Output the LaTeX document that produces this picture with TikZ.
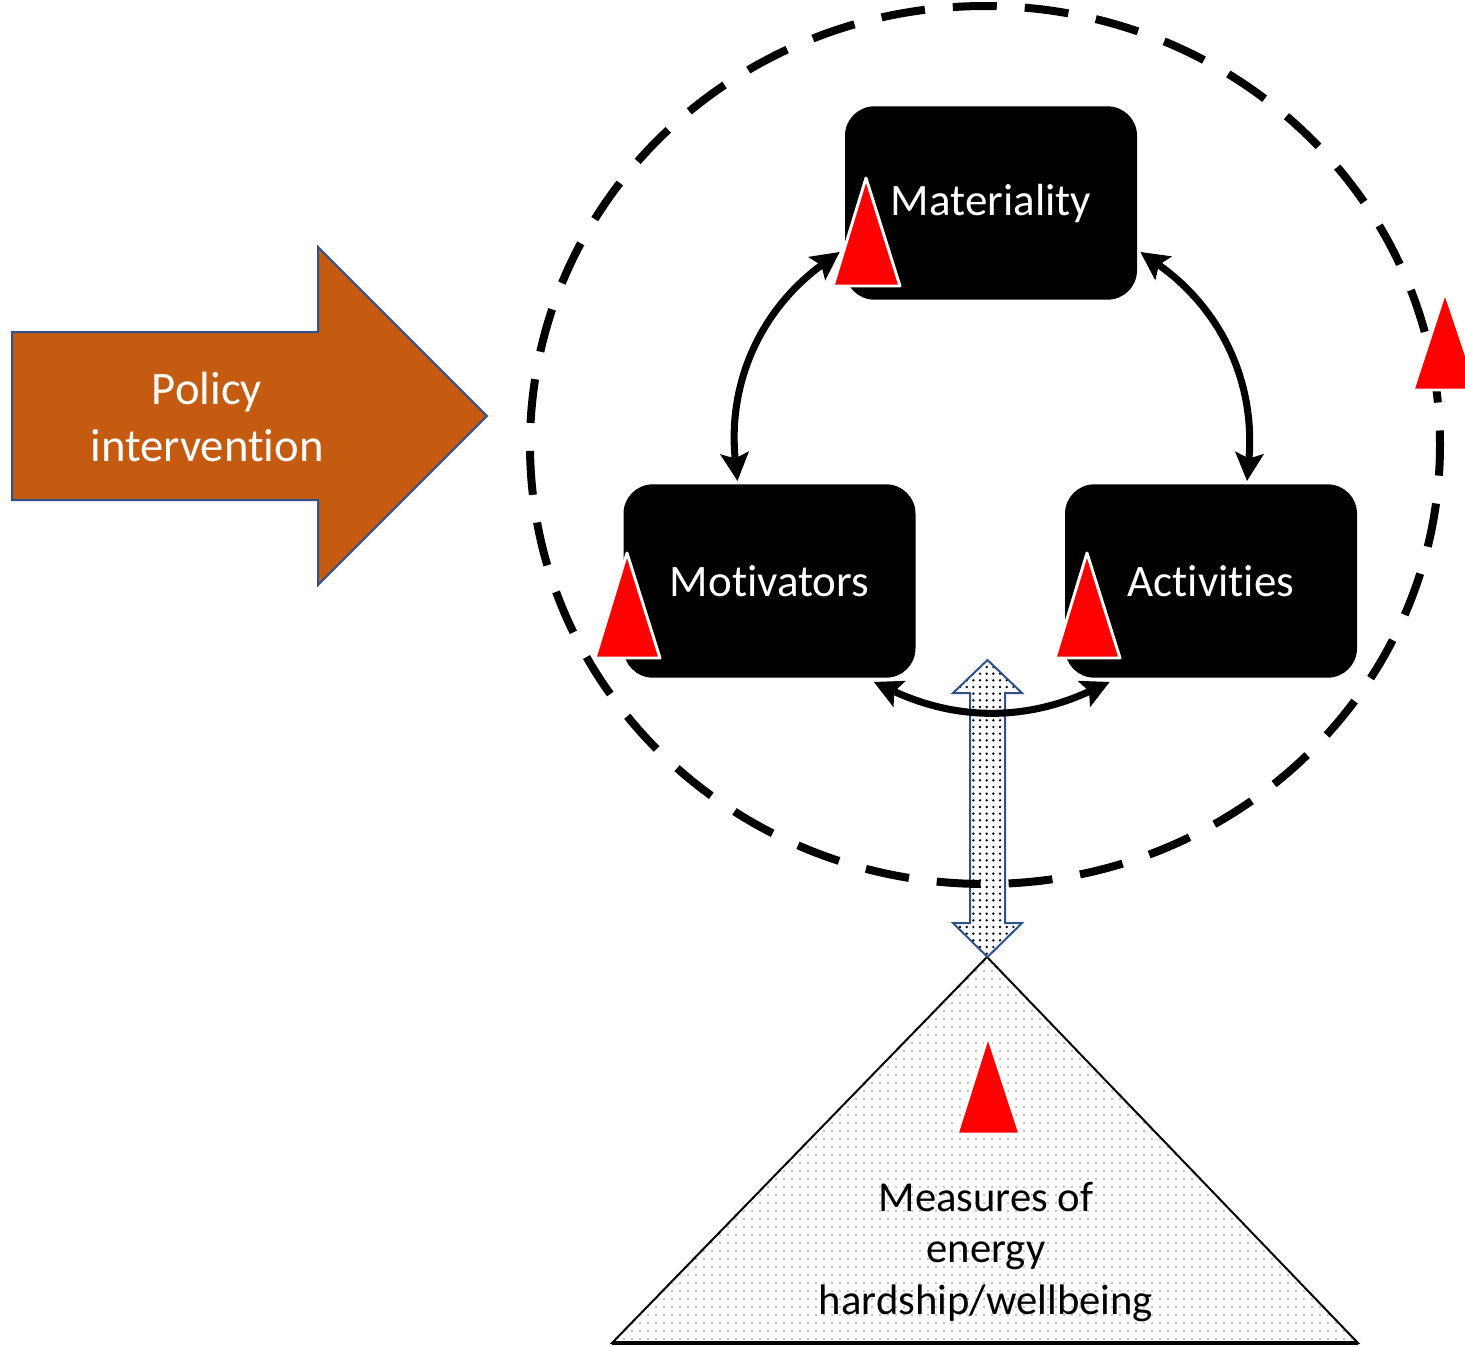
\documentclass[tikz,border=0pt]{standalone}
\usepackage{fontspec}
\setmainfont{Carlito}[RawFeature={-liga,-dlig}]
\usetikzlibrary{arrows.meta,patterns.meta}
\definecolor{orng}{HTML}{C55A11}
\definecolor{bord}{HTML}{2F528F}
\begin{document}
\begin{tikzpicture}[x=0.75pt,y=-0.75pt,
  box/.style={fill=black, rounded corners=22pt, minimum width=219pt, minimum height=145pt, text=white, font=\fontsize{33.75}{40}\selectfont, inner sep=0pt},
  link/.style={line width=5.3pt, {Stealth[length=21pt,width=21pt,inset=4pt]}-{Stealth[length=21pt,width=21pt,inset=4pt]}},
  redtri/.style={fill=red, draw=white, line width=2.2pt, line join=round},
  blockarrow/.style={draw=bord, line width=1.5pt},
  ]
\clip (0,0) rectangle (1465,1347);
\fill[white] (0,0) rectangle (1465,1347);

% policy arrow
\draw[blockarrow, fill=orng] (12,332) -- (318,332) -- (318,247) -- (487,416) -- (318,585) -- (318,500) -- (12,500) -- cycle;
\node[text=white, align=center, font=\fontsize{35}{43}\selectfont] (pol) at (207,417) {Policy\\intervention};

% pyramid
\draw[line width=1.5pt, pattern={Dots[distance=6pt,radius=0.55pt]}] (987,957) -- (1358,1343) -- (612,1343) -- cycle;
\draw[line width=2.6pt] (612,1343) -- (1358,1343);
\node[align=center, font=\fontsize{32}{38.6}\selectfont] (meas) at (986,1252) {Measures of\\energy\\hardship/wellbeing};

% vertical double block arrow
\draw[blockarrow, preaction={fill=white}, pattern={Dots[distance=5pt,radius=1pt]}]
  (987.5,660) -- (1022,693) -- (1005,693) -- (1005,923) -- (1022,923) -- (987.5,957)
  -- (953,923) -- (970,923) -- (970,693) -- (953,693) -- cycle;

% dashed boundary
\draw[line width=6pt, dash pattern=on 33pt off 21pt, dash phase=10pt] (985,445) ellipse [x radius=455, y radius=439];

% boxes
\node[box] (mat) at (991,203) {Materiality};
\node[box] (mot) at (769.5,581) {Motivators};
\node[box] (act) at (1211,581) {Activities};

% connectors
\draw[link] ([shift={(-5,-48)}]mat.south west) to[bend right=30] ([shift={(-32,-3)}]mot.north);
\draw[link] ([shift={(3,-48)}]mat.south east) to[bend left=30] ([shift={(36,-3)}]act.north);
\draw[link] ([shift={(-42,4)}]mot.south east) to[bend right=25] ([shift={(45,4)}]act.south west);

% red triangles
\filldraw[redtri] (866,178) -- (900,286) -- (833,286) -- cycle;
\filldraw[redtri] (627,553) -- (660,658) -- (595,658) -- cycle;
\filldraw[redtri] (1087,553) -- (1120,658) -- (1055,658) -- cycle;
\filldraw[redtri] (1445,292) -- (1478,390) -- (1413,390) -- cycle;
\filldraw[redtri] (988,1036) -- (1020,1134) -- (957,1134) -- cycle;
\end{tikzpicture}
\end{document}
